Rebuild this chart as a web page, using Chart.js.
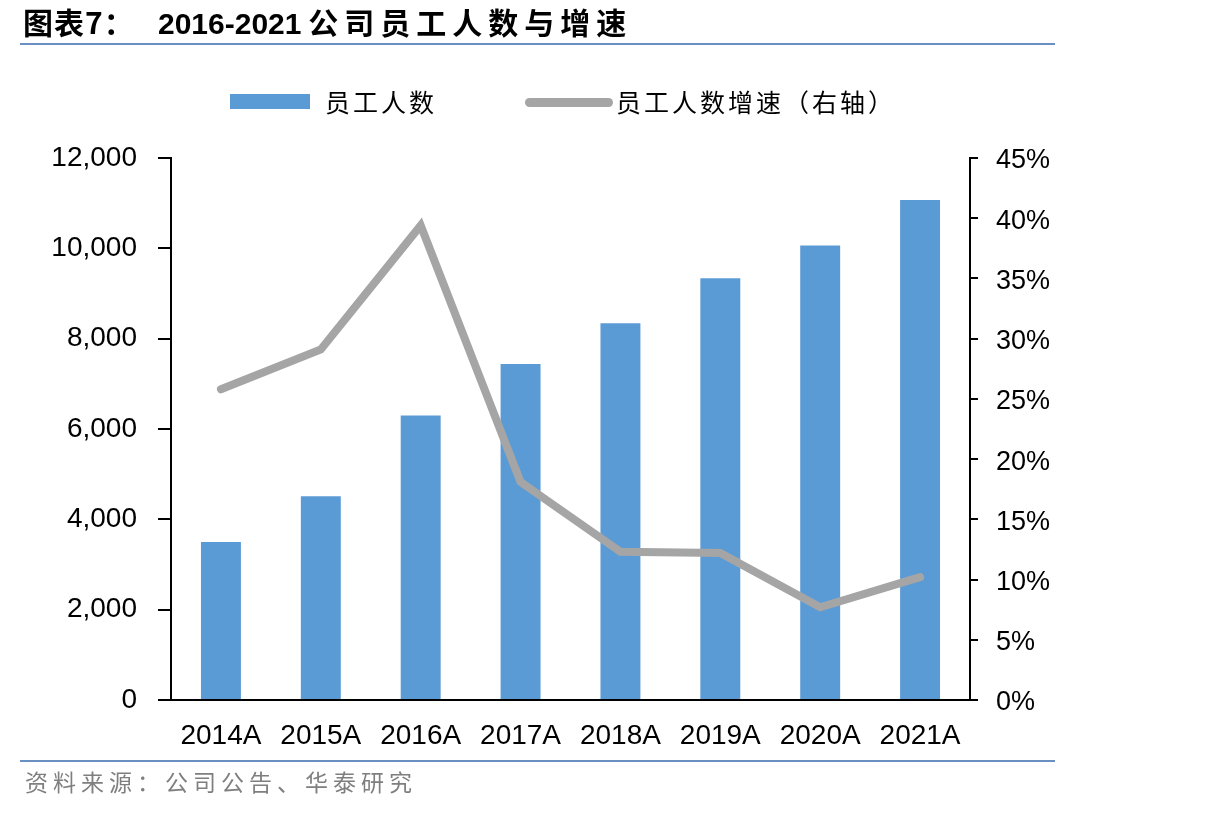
<!DOCTYPE html>
<html>
<head>
<meta charset="utf-8">
<script src="https://cdn.jsdelivr.net/npm/chart.js@4/dist/chart.umd.min.js"></script>
<style>
    html, body { margin: 0; padding: 0; background: #fff; }
    #page { position: relative; width: 1206px; height: 816px; overflow: hidden; }
    #chartCanvas { position: absolute; left: 0; top: 0; }
    .txt { position: absolute; white-space: nowrap; font-family: "Noto Sans CJK SC", sans-serif; }
    .rule { position: absolute; left: 20px; width: 1035px; height: 2px; background: #6a8fc3; }
</style>
</head>
<body>
<div id="page">
    <canvas id="chartCanvas" width="1206" height="816"></canvas>

    <!-- タイトル -->
    <div class="txt" style="left:23px; top:3px; font-size:30px; font-weight:bold; line-height:36px; letter-spacing:1px;">图表7：</div>
    <div class="txt" style="left:158px; top:3px; font-size:30px; font-weight:bold; line-height:36px;"><span style="font-family:'Liberation Sans', Arial, sans-serif;">2016-2021</span> <span style="letter-spacing:6px;">公司员工人数与增速</span></div>
    <div class="rule" style="top:43px;"></div>

    <!-- 凡例 -->
    <div style="position:absolute; left:230px; top:94px; width:80px; height:15px; background:#5B9BD5;"></div>
    <div class="txt" style="left:325px; top:86px; font-size:25px; line-height:30px; letter-spacing:3px;">员工人数</div>
    <div style="position:absolute; left:525px; top:98px; width:88px; height:9px; border-radius:5px; background:#A5A5A5;"></div>
    <div class="txt" style="left:616px; top:86px; font-size:25px; line-height:30px; letter-spacing:3px;">员工人数增速（右轴）</div>

    <!-- 出典 -->
    <div class="rule" style="top:760px;"></div>
    <div class="txt" style="left:25px; top:767px; font-size:23px; line-height:28px; letter-spacing:5px; color:#7f7f7f;">资料来源：公司公告、华泰研究</div>
</div>
<script>
// データ
const categories = ["2014A", "2015A", "2016A", "2017A", "2018A", "2019A", "2020A", "2021A"];
const staffCount = [3500, 4510, 6300, 7440, 8340, 9340, 10060, 11070];
const staffGrowth = [25.8, 29.1, 39.4, 18.1, 12.3, 12.2, 7.7, 10.2];

const leftTicks = [0, 2000, 4000, 6000, 8000, 10000, 12000];
const rightTicks = [0, 5, 10, 15, 20, 25, 30, 35, 40, 45];

const tickFont = { family: "'Liberation Sans', Arial, sans-serif", size: 28 };

const ctx = document.getElementById("chartCanvas").getContext("2d");
new Chart(ctx, {
    type: "bar",
    data: {
        labels: categories,
        datasets: [
            {
                type: "line",
                label: "员工人数增速（右轴）",
                data: staffGrowth,
                yAxisID: "yRight",
                borderColor: "#A5A5A5",
                borderWidth: 8,
                borderCapStyle: "round",
                borderJoinStyle: "miter",
                pointRadius: 0,
                tension: 0,
                order: 0,
            },
            {
                label: "员工人数",
                data: staffCount,
                yAxisID: "yLeft",
                backgroundColor: "#5B9BD5",
                barPercentage: 0.4,
                categoryPercentage: 1,
                order: 1,
            },
        ],
    },
    options: {
        responsive: false,
        animation: false,
        layout: { padding: { top: 158, left: 0, right: 0, bottom: 0 } },
        plugins: {
            legend: { display: false },
            tooltip: { enabled: false },
        },
        scales: {
            x: {
                grid: { display: false, drawTicks: false },
                border: { display: true, color: "#000", width: 2 },
                ticks: { color: "#000", font: tickFont, padding: 19, maxRotation: 0 },
                afterFit(scale) { scale.height = 116; },
            },
            yLeft: {
                position: "left",
                min: 0,
                max: 12000,
                afterBuildTicks(scale) { scale.ticks = leftTicks.map((v) => ({ value: v })); },
                grid: { drawOnChartArea: false, drawTicks: true, tickLength: 13, color: "#000", lineWidth: 2 },
                border: { display: true, color: "#000", width: 2 },
                ticks: {
                    color: "#000",
                    font: tickFont,
                    padding: 21,
                    callback: (v) => v.toLocaleString("en-US"),
                },
                afterFit(scale) { scale.width = 171; },
            },
            yRight: {
                position: "right",
                min: 0,
                max: 45,
                afterBuildTicks(scale) { scale.ticks = rightTicks.map((v) => ({ value: v })); },
                grid: { drawOnChartArea: false, drawTicks: true, tickLength: 8, color: "#000", lineWidth: 2 },
                border: { display: true, color: "#000", width: 2 },
                ticks: {
                    color: "#000",
                    font: { family: tickFont.family, size: 27 },
                    padding: 18,
                    labelOffset: 3,
                    callback: (v) => v + "%",
                },
                afterFit(scale) { scale.width = 1206 - 970; },
            },
        },
    },
});
</script>
</body>
</html>
